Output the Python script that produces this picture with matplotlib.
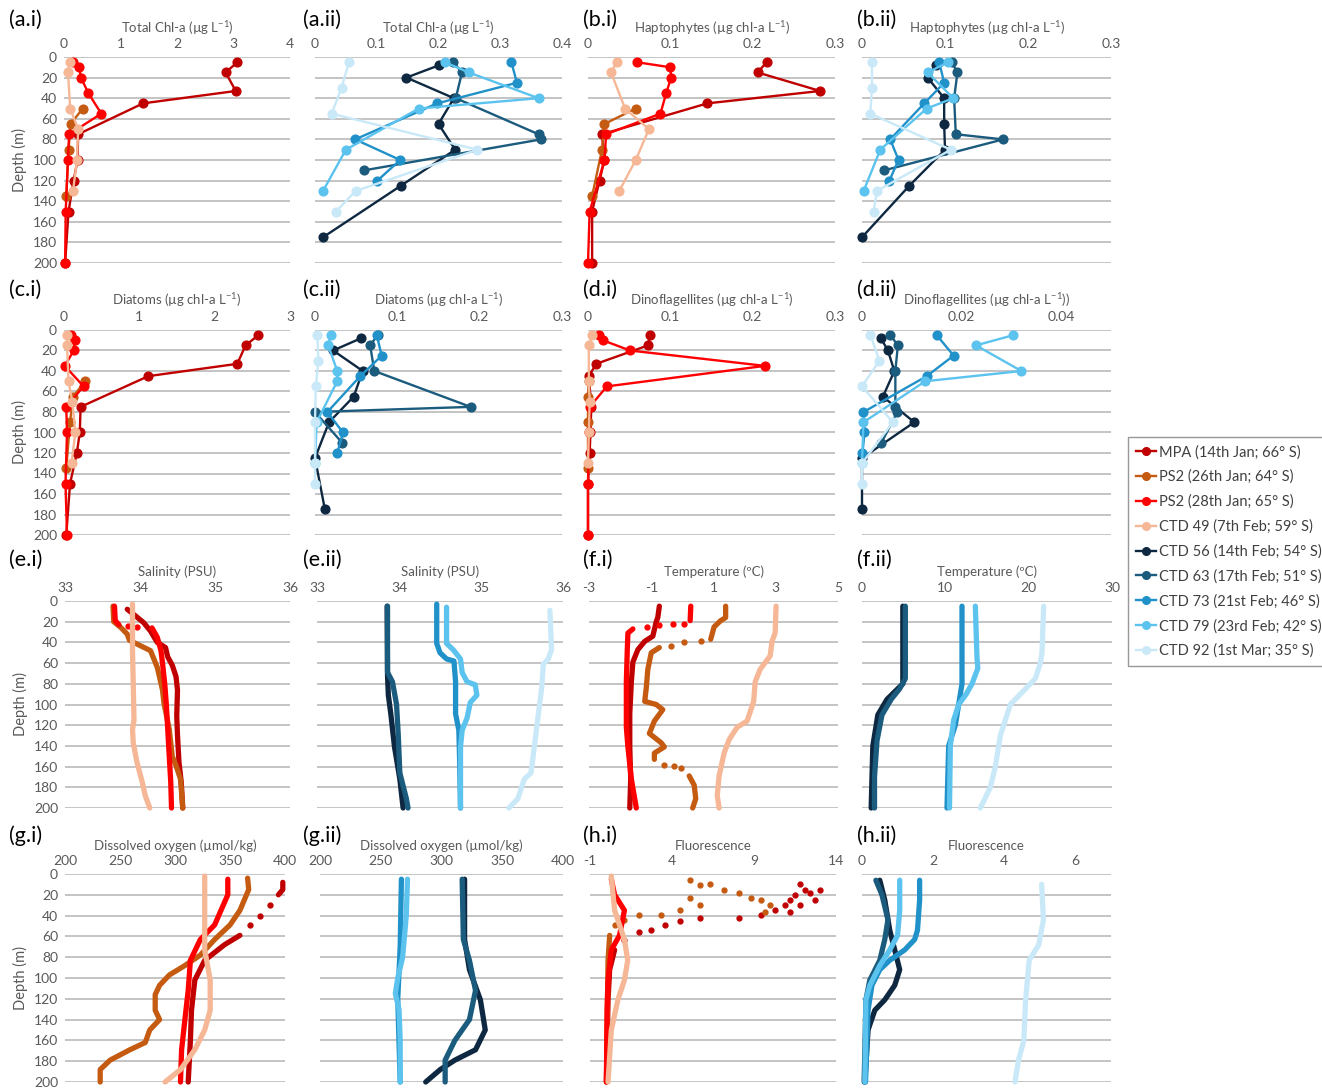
import matplotlib
matplotlib.use("Agg")
import matplotlib.pyplot as plt
from matplotlib.lines import Line2D
import numpy as np

plt.rcParams['font.family'] = ['Lato', 'DejaVu Sans']
plt.rcParams['mathtext.default'] = 'regular'

# colours / station names
C_MPA, C_PS26, C_PS28, C_49 = '#C00000', '#C55A11', '#FF0000', '#F5B795'
C_56, C_63, C_73, C_79, C_92 = '#0E2841', '#1B5B7E', '#2191C9', '#5BC3EE', '#C9E9F8'
station_names = ['MPA (14th Jan; 66° S)', 'PS2 (26th Jan; 64° S)', 'PS2 (28th Jan; 65° S)',
                 'CTD 49 (7th Feb; 59° S)', 'CTD 56 (14th Feb; 54° S)', 'CTD 63 (17th Feb; 51° S)',
                 'CTD 73 (21st Feb; 46° S)', 'CTD 79 (23rd Feb; 42° S)', 'CTD 92 (1st Mar; 35° S)']
station_colors = [C_MPA, C_PS26, C_PS28, C_49, C_56, C_63, C_73, C_79, C_92]

# ---- discrete pigment samples (depth m) ----
mpa_d = [5, 15, 33, 45, 75, 100, 120, 150, 200]
mpa_chl = [3.07, 2.86, 3.04, 1.40, 0.25, 0.24, 0.17, 0.08, 0.02]
mpa_hapto = [0.217, 0.206, 0.282, 0.145, 0.017, 0.020, 0.014, 0.005, 0.005]
mpa_diat = [2.58, 2.41, 2.30, 1.12, 0.22, 0.21, 0.17, 0.08, 0.03]
mpa_dino = [0.075, 0.073, 0.010, 0.001, 0.004, 0.003, 0.002, 0.0, 0.0]

ps26_d = [50, 65, 90, 135]
ps26_chl = [0.33, 0.12, 0.08, 0.04]
ps26_hapto = [0.058, 0.020, 0.017, 0.005]
ps26_diat = [0.28, 0.12, 0.08, 0.03]
ps26_dino = [0.001, 0.0, 0.0, 0.0]

ps28_d = [5, 10, 20, 35, 55, 75, 100, 150, 200]
ps28_chl = [0.16, 0.27, 0.30, 0.43, 0.66, 0.09, 0.07, 0.03, 0.02]
ps28_hapto = [0.059, 0.100, 0.101, 0.095, 0.088, 0.022, 0.020, 0.002, 0.0]
ps28_diat = [0.09, 0.14, 0.13, 0.01, 0.26, 0.03, 0.04, 0.02, 0.04]
ps28_dino = [0.013, 0.018, 0.051, 0.215, 0.023, 0.002, 0.001, 0.0, 0.0]

ctd49_d = [5, 15, 50, 70, 100, 130]
ctd49_chl = [0.10, 0.07, 0.11, 0.25, 0.23, 0.16]
ctd49_hapto = [0.035, 0.028, 0.045, 0.074, 0.058, 0.038]
ctd49_diat = [0.04, 0.04, 0.06, 0.11, 0.15, 0.10]
ctd49_dino = [0.005, 0.001, 0.001, 0.002, 0.001, 0.0]

ctd56_d = [8, 20, 40, 65, 90, 125, 175]
ctd56_chl = [0.201, 0.148, 0.225, 0.200, 0.227, 0.139, 0.013]
ctd56_hapto = [0.089, 0.079, 0.099, 0.099, 0.100, 0.057, 0.0]
ctd56_diat = [0.056, 0.022, 0.058, 0.047, 0.017, 0.0, 0.012]
ctd56_dino = [0.0038, 0.0052, 0.0065, 0.0042, 0.0105, 0.0, 0.0]

ctd63_d = [5, 15, 40, 75, 80, 110]
ctd63_chl = [0.224, 0.238, 0.228, 0.362, 0.366, 0.080]
ctd63_hapto = [0.108, 0.115, 0.111, 0.113, 0.170, 0.027]
ctd63_diat = [0.076, 0.067, 0.072, 0.189, 0.0, 0.033]
ctd63_dino = [0.0057, 0.0072, 0.0067, 0.0067, 0.0071, 0.0039]

ctd73_d = [5, 25, 45, 80, 100, 120]
ctd73_chl = [0.318, 0.327, 0.198, 0.065, 0.138, 0.101]
ctd73_hapto = [0.093, 0.099, 0.075, 0.034, 0.044, 0.033]
ctd73_diat = [0.075, 0.081, 0.055, 0.015, 0.034, 0.027]
ctd73_dino = [0.015, 0.0184, 0.013, 0.0003, 0.0005, 0.0001]

ctd79_d = [5, 15, 40, 50, 90, 130]
ctd79_chl = [0.210, 0.249, 0.362, 0.168, 0.050, 0.013]
ctd79_hapto = [0.104, 0.079, 0.110, 0.078, 0.022, 0.002]
ctd79_diat = [0.019, 0.016, 0.027, 0.027, 0.002, 0.0]
ctd79_dino = [0.0304, 0.0229, 0.032, 0.0127, 0.0003, 0.0]

ctd92_d = [5, 30, 55, 90, 130, 150]
ctd92_chl = [0.055, 0.043, 0.027, 0.263, 0.066, 0.034]
ctd92_hapto = [0.012, 0.012, 0.010, 0.107, 0.018, 0.014]
ctd92_diat = [0.003, 0.004, 0.001, 0.0, 0.0, 0.0]
ctd92_dino = [0.0017, 0.0035, 0.0, 0.0062, 0.0, 0.0]

# ---- CTD profiles (nan = gap in the cast, shown as loose dots) ----
nan = np.nan
# salinity
mpa_sal_d = [8, 12, 21, 29, 40, 45, 54, 62, 73, 86, 111, 130, 156, 175, 200]
mpa_sal = [33.83, 33.90, 34.05, 34.14, 34.23, 34.34, 34.37, 34.43, 34.48, 34.50, 34.49, 34.50, 34.52, 34.55, 34.57]
ps26_sal_d = [5, 20, 26, 32, 38, 43, 48, 64, 86, 99, 124, 150, 159, 172, 200]
ps26_sal = [33.64, 33.65, 33.75, 33.83, 33.86, 34.00, 34.14, 34.23, 34.30, 34.32, 34.39, 34.43, 34.48, 34.54, 34.57]
ps28_sal_d = [5, 19, 23, nan, 26, 35, 48, 60, 80, 99, 124, 150, 175, 200]
ps28_sal = [33.66, 33.67, 33.72, nan, 34.16, 34.23, 34.28, 34.30, 34.33, 34.35, 34.37, 34.39, 34.41, 34.42]
ps28_sal_dot_d = [24, 25]
ps28_sal_dot = [33.84, 33.96]
ctd49_sal_d = [3, 48, 80, 115, 124, 137, 156, 175, 188, 200]
ctd49_sal = [33.90, 33.90, 33.91, 33.92, 33.90, 33.91, 33.96, 34.03, 34.07, 34.13]
ctd56_sal_d = [5, 72, 91, 109, 141, 172, 200]
ctd56_sal = [33.855, 33.86, 33.87, 33.90, 33.945, 34.01, 34.05]
ctd63_sal_d = [5, 69, 78, 100, 128, 166, 191, 200]
ctd63_sal = [33.86, 33.86, 33.92, 33.97, 33.99, 34.01, 34.09, 34.11]
ctd73_sal_d = [3, 41, 50, 56, 58, 78, 109, 125, 156, 200]
ctd73_sal = [34.46, 34.46, 34.50, 34.58, 34.67, 34.69, 34.69, 34.73, 34.74, 34.75]
ctd79_sal_d = [6, 41, 47, 56, 69, 78, 81, 91, 98, 113, 125, 141, 172, 200]
ctd79_sal = [34.58, 34.58, 34.66, 34.75, 34.77, 34.83, 34.93, 34.95, 34.87, 34.83, 34.77, 34.75, 34.75, 34.75]
ctd92_sal_d = [9, 47, 56, 61, 84, 109, 141, 166, 172, 181, 191, 200]
ctd92_sal = [35.84, 35.86, 35.82, 35.76, 35.74, 35.70, 35.65, 35.61, 35.53, 35.49, 35.45, 35.34]

# temperature
mpa_temp_d = [5, 16, 20, 34, 39, 47, 59, 78, 109, 141, 172, 200]
mpa_temp = [-0.74, -0.79, -0.84, -0.95, -1.21, -1.43, -1.59, -1.64, -1.69, -1.69, -1.66, -1.69]
ps26_temp_d = [5, 16, 19, 25, 37, nan, 45, 50, 66, 84, 97, 100, 105, 116, 128, 137, 141, 147, 153, nan, 169, 178, 191, 200]
ps26_temp = [1.39, 1.39, 1.23, 1.02, 0.91, nan, -0.74, -1.0, -1.11, -1.16, -1.21, -0.84, -0.63, -0.90, -1.06, -0.68, -0.58, -0.90, -0.90, nan, 0.22, 0.38, 0.43, 0.33]
ps26_temp_dot_d = [39, 40, 43, 158, 159, 161]
ps26_temp_dot = [0.59, 0.06, -0.36, -0.58, -0.26, -0.05]
ps28_temp_d = [5, 19, nan, 27, 31, 47, 78, 122, 141, 172, 200]
ps28_temp = [0.27, 0.25, nan, -1.59, -1.75, -1.77, -1.80, -1.80, -1.75, -1.64, -1.48]
ps28_temp_dot_d = [22, 22, 23, 25]
ps28_temp_dot = [0.06, -0.31, -0.74, -1.13]
ctd49_temp_d = [5, 31, 39, 53, 66, 78, 97, 116, 122, 134, 147, 169, 188, 200]
ctd49_temp = [3.01, 2.98, 2.88, 2.82, 2.50, 2.34, 2.29, 2.08, 1.76, 1.50, 1.34, 1.18, 1.12, 1.18]
ctd56_temp_d = [5, 80, 95, 110, 140, 200]
ctd56_temp = [4.9, 4.9, 3.0, 1.9, 1.3, 1.1]
ctd63_temp_d = [5, 75, 85, 95, 110, 135, 170, 200]
ctd63_temp = [5.2, 5.2, 4.5, 3.5, 2.4, 1.8, 1.5, 1.5]
ctd73_temp_d = [5, 80, 100, 120, 140, 200]
ctd73_temp = [12.0, 12.0, 11.6, 11.2, 10.4, 10.2]
ctd79_temp_d = [5, 55, 65, 80, 90, 100, 115, 140, 200]
ctd79_temp = [13.6, 13.8, 13.9, 13.2, 12.5, 11.6, 11.0, 10.6, 10.5]
ctd92_temp_d = [5, 50, 60, 75, 90, 100, 130, 160, 180, 200]
ctd92_temp = [21.8, 21.6, 21.4, 20.8, 19.0, 17.8, 16.6, 16.0, 15.4, 14.2]

# dissolved oxygen
mpa_oxy_d = [8, 15, 20, nan, 59, 68, 83, 102, 131, 160, 200]
mpa_oxy = [398, 398, 394, nan, 359, 345, 327, 318, 315, 314, 312]
mpa_oxy_dot_d = [30, 40, 49]
mpa_oxy_dot = [386, 377, 368]
ps26_oxy_d = [4, 15, 35, 49, 63, 78, 88, 97, 107, 116, 131, 140, 150, 162, 169, 179, 188, 200]
ps26_oxy = [366, 367, 359, 350, 336, 323, 309, 295, 286, 282, 282, 286, 277, 273, 259, 241, 232, 232]
ps28_oxy_d = [5, 20, 49, 63, 83, 112, 140, 169, 200]
ps28_oxy = [348, 348, 336, 323, 314, 312, 309, 306, 305]
ctd49_oxy_d = [2, 54, 73, 102, 131, 150, 169, 188, 200]
ctd49_oxy = [327, 327, 327, 332, 332, 327, 318, 305, 291]
ctd56_oxy_d = [5, 63, 92, 121, 150, 169, 179, 188, 200]
ctd56_oxy = [319, 319, 323, 332, 336, 328, 311, 299, 287]
ctd63_oxy_d = [5, 63, 83, 112, 140, 160, 179, 200]
ctd63_oxy = [317, 318, 323, 328, 323, 311, 303, 303]
ctd73_oxy_d = [5, 70, 120, 160, 200]
ctd73_oxy = [267, 266, 264, 265, 266]
ctd79_oxy_d = [5, 40, 80, 100, 115, 130, 160, 200]
ctd79_oxy = [272, 271, 268, 264, 262, 265, 266, 266]

# fluorescence
mpa_fl_d = [73, 92, 121, 200]
mpa_fl = [0.5, 0.2, 0.1, 0.0]
mpa_fl_dot_d = [10, 15, 18, 20, 25, 15, 25, 30, 30, 35, 37, 39, 42, 42, 45, 49, 54, 56, 63]
mpa_fl_dot = [11.8, 12.1, 12.4, 11.5, 11.2, 13.0, 12.7, 10.9, 11.8, 10.3, 11.2, 9.4, 8.1, 5.7, 4.5, 3.6, 2.7, 2.0, 1.1]
ps26_fl_d = [59, 83, 200]
ps26_fl = [0.2, 0.1, 0.0]
ps26_fl_dot_d = [6, 11, 10, 15, 18, 23, 25, 30, 37, 30, 23, 35, 39, 39, 44, 49]
ps26_fl_dot = [5.1, 5.7, 6.3, 7.2, 8.1, 8.8, 9.4, 10.0, 9.7, 5.7, 5.1, 4.5, 3.3, 2.0, 1.1, 0.5]
ps28_fl_d = [5, 20, 35, 59, 73, 102, 131, 200]
ps28_fl = [0.3, 0.5, 1.1, 0.8, 0.3, 0.1, 0.04, 0.0]
ctd49_fl_d = [2, 35, 63, 83, 102, 121, 150, 200]
ctd49_fl = [0.3, 0.5, 1.1, 1.3, 1.1, 0.7, 0.3, 0.1]
ctd56_fl_d = [6, 25, 54, 73, 92, 107, 121, 131, 150, 200]
ctd56_fl = [0.5, 0.64, 0.78, 0.92, 1.06, 0.92, 0.64, 0.36, 0.17, 0.08]
ctd63_fl_d = [6, 20, 44, 63, 83, 102, 121, 200]
ctd63_fl = [0.39, 0.56, 0.73, 0.64, 0.5, 0.22, 0.11, 0.06]
ctd73_fl_d = [6, 25, 54, 63, 73, 83, 92, 107, 131, 200]
ctd73_fl = [1.62, 1.62, 1.56, 1.48, 1.2, 0.78, 0.5, 0.28, 0.17, 0.1]
ctd79_fl_d = [6, 35, 59, 73, 88, 107, 121, 200]
ctd79_fl = [1.06, 1.06, 1.0, 0.78, 0.5, 0.22, 0.11, 0.08]
ctd92_fl_d = [10, 44, 68, 83, 121, 160, 179, 200]
ctd92_fl = [5.05, 5.1, 4.97, 4.7, 4.6, 4.55, 4.4, 4.3]

# ---- layout (pixels of the 1322x1088 canvas) ----
W, H = 1322, 1088
col_l = [64, 315, 588, 862]
col_r = [290, 562, 835, 1111]
# the lower rows sit a few pixels differently
col_l_row = {2: [65, 317, 589, 862], 3: [65, 320, 590, 862]}
col_r_row = {2: [290, 563, 838, 1112], 3: [285, 563, 836, 1111]}
row_t = [57, 330, 601, 874]
row_b = [263, 535, 808, 1082]
lab_x = [9, 303, 583, 857]
lab_y = [20, 290, 560, 836]
GRAY = '#595959'

fig = plt.figure(figsize=(W / 100, H / 100), dpi=100)


def make_ax(r, c, label, title, xlim, xticks):
    left = col_l_row.get(r, col_l)[c]
    right = col_r_row.get(r, col_r)[c]
    ax = fig.add_axes([left / W, 1 - row_b[r] / H,
                       (right - left) / W, (row_b[r] - row_t[r]) / H])
    ax.set_xlim(*xlim)
    ax.set_ylim(200, 0)
    ax.set_yticks(range(0, 201, 20))
    ax.set_xticks(xticks)
    ax.set_xticklabels([f"{t:g}" for t in xticks])
    ax.xaxis.tick_top()
    ax.grid(axis='y', color='#BFBFBF', lw=1.3)
    ax.set_axisbelow(True)
    for s in ax.spines.values():
        s.set_visible(False)
    ax.tick_params(length=0, labelsize=10, labelcolor=GRAY, pad=5)
    if c == 0:
        ax.set_ylabel('Depth (m)', fontsize=10.5, color=GRAY, labelpad=4)
    else:
        ax.set_yticklabels([])
    ax.set_title(title, fontsize=9.5, color=GRAY, pad=4)
    fig.text(lab_x[c] / W, 1 - lab_y[r] / H, label, fontsize=15.5, va='center', ha='left')
    return ax


def discrete(ax, vals, depths, color):
    ax.plot(vals, depths, '-o', color=color, lw=1.7, ms=6.3, clip_on=False)


def profile(ax, vals, depths, color):
    ax.plot(vals, depths, '-', color=color, lw=3.8, solid_capstyle='round',
            solid_joinstyle='round', clip_on=False)


def dots(ax, vals, depths, color):
    ax.plot(vals, depths, 'o', color=color, ms=3.5, clip_on=False)


chl_t = 'Total Chl-a (µg L$^{-1}$)'
hap_t = 'Haptophytes (µg chl-a L$^{-1}$)'
dia_t = 'Diatoms (µg chl-a L$^{-1}$)'

# row 1-2: pigments
ax = make_ax(0, 0, '(a.i)', chl_t, (0, 4), [0, 1, 2, 3, 4])
for v, d, c in [(mpa_chl, mpa_d, C_MPA), (ps26_chl, ps26_d, C_PS26), (ps28_chl, ps28_d, C_PS28), (ctd49_chl, ctd49_d, C_49)]:
    discrete(ax, v, d, c)
ax = make_ax(0, 1, '(a.ii)', chl_t, (0, 0.4), [0, 0.1, 0.2, 0.3, 0.4])
for v, d, c in [(ctd56_chl, ctd56_d, C_56), (ctd63_chl, ctd63_d, C_63), (ctd73_chl, ctd73_d, C_73), (ctd79_chl, ctd79_d, C_79), (ctd92_chl, ctd92_d, C_92)]:
    discrete(ax, v, d, c)
ax = make_ax(0, 2, '(b.i)', hap_t, (0, 0.3), [0, 0.1, 0.2, 0.3])
for v, d, c in [(mpa_hapto, mpa_d, C_MPA), (ps26_hapto, ps26_d, C_PS26), (ps28_hapto, ps28_d, C_PS28), (ctd49_hapto, ctd49_d, C_49)]:
    discrete(ax, v, d, c)
ax = make_ax(0, 3, '(b.ii)', hap_t, (0, 0.3), [0, 0.1, 0.2, 0.3])
for v, d, c in [(ctd56_hapto, ctd56_d, C_56), (ctd63_hapto, ctd63_d, C_63), (ctd73_hapto, ctd73_d, C_73), (ctd79_hapto, ctd79_d, C_79), (ctd92_hapto, ctd92_d, C_92)]:
    discrete(ax, v, d, c)

ax = make_ax(1, 0, '(c.i)', dia_t, (0, 3), [0, 1, 2, 3])
for v, d, c in [(mpa_diat, mpa_d, C_MPA), (ps26_diat, ps26_d, C_PS26), (ps28_diat, ps28_d, C_PS28), (ctd49_diat, ctd49_d, C_49)]:
    discrete(ax, v, d, c)
ax = make_ax(1, 1, '(c.ii)', dia_t, (0, 0.3), [0, 0.1, 0.2, 0.3])
for v, d, c in [(ctd56_diat, ctd56_d, C_56), (ctd63_diat, ctd63_d, C_63), (ctd73_diat, ctd73_d, C_73), (ctd79_diat, ctd79_d, C_79), (ctd92_diat, ctd92_d, C_92)]:
    discrete(ax, v, d, c)
ax = make_ax(1, 2, '(d.i)', 'Dinoflagellites (µg chl-a L$^{-1}$)', (0, 0.3), [0, 0.1, 0.2, 0.3])
for v, d, c in [(mpa_dino, mpa_d, C_MPA), (ps26_dino, ps26_d, C_PS26), (ps28_dino, ps28_d, C_PS28), (ctd49_dino, ctd49_d, C_49)]:
    discrete(ax, v, d, c)
ax = make_ax(1, 3, '(d.ii)', 'Dinoflagellites (µg chl-a L$^{-1}$))', (0, 0.05), [0, 0.02, 0.04])
for v, d, c in [(ctd56_dino, ctd56_d, C_56), (ctd63_dino, ctd63_d, C_63), (ctd73_dino, ctd73_d, C_73), (ctd79_dino, ctd79_d, C_79), (ctd92_dino, ctd92_d, C_92)]:
    discrete(ax, v, d, c)

# row 3: salinity / temperature
ax = make_ax(2, 0, '(e.i)', 'Salinity (PSU)', (33, 36), [33, 34, 35, 36])
profile(ax, mpa_sal, mpa_sal_d, C_MPA)
profile(ax, ps26_sal, ps26_sal_d, C_PS26)
profile(ax, ps28_sal, ps28_sal_d, C_PS28)
dots(ax, ps28_sal_dot, ps28_sal_dot_d, C_PS28)
profile(ax, ctd49_sal, ctd49_sal_d, C_49)
ax = make_ax(2, 1, '(e.ii)', 'Salinity (PSU)', (33, 36), [33, 34, 35, 36])
for v, d, c in [(ctd56_sal, ctd56_sal_d, C_56), (ctd63_sal, ctd63_sal_d, C_63), (ctd73_sal, ctd73_sal_d, C_73), (ctd79_sal, ctd79_sal_d, C_79), (ctd92_sal, ctd92_sal_d, C_92)]:
    profile(ax, v, d, c)
ax = make_ax(2, 2, '(f.i)', 'Temperature (ºC)', (-3, 5), [-3, -1, 1, 3, 5])
profile(ax, mpa_temp, mpa_temp_d, C_MPA)
profile(ax, ps26_temp, ps26_temp_d, C_PS26)
dots(ax, ps26_temp_dot, ps26_temp_dot_d, C_PS26)
profile(ax, ps28_temp, ps28_temp_d, C_PS28)
dots(ax, ps28_temp_dot, ps28_temp_dot_d, C_PS28)
profile(ax, ctd49_temp, ctd49_temp_d, C_49)
ax = make_ax(2, 3, '(f.ii)', 'Temperature (ºC)', (0, 30), [0, 10, 20, 30])
for v, d, c in [(ctd56_temp, ctd56_temp_d, C_56), (ctd63_temp, ctd63_temp_d, C_63), (ctd73_temp, ctd73_temp_d, C_73), (ctd79_temp, ctd79_temp_d, C_79), (ctd92_temp, ctd92_temp_d, C_92)]:
    profile(ax, v, d, c)

# row 4: oxygen / fluorescence
ax = make_ax(3, 0, '(g.i)', 'Dissolved oxygen (µmol/kg)', (200, 400), [200, 250, 300, 350, 400])
profile(ax, mpa_oxy, mpa_oxy_d, C_MPA)
dots(ax, mpa_oxy_dot, mpa_oxy_dot_d, C_MPA)
profile(ax, ps26_oxy, ps26_oxy_d, C_PS26)
profile(ax, ps28_oxy, ps28_oxy_d, C_PS28)
profile(ax, ctd49_oxy, ctd49_oxy_d, C_49)
ax = make_ax(3, 1, '(g.ii)', 'Dissolved oxygen (µmol/kg)', (200, 400), [200, 250, 300, 350, 400])
for v, d, c in [(ctd56_oxy, ctd56_oxy_d, C_56), (ctd63_oxy, ctd63_oxy_d, C_63), (ctd73_oxy, ctd73_oxy_d, C_73), (ctd79_oxy, ctd79_oxy_d, C_79)]:
    profile(ax, v, d, c)
ax = make_ax(3, 2, '(h.i)', 'Fluorescence', (-1, 14), [-1, 4, 9, 14])
dots(ax, mpa_fl_dot, mpa_fl_dot_d, C_MPA)
profile(ax, mpa_fl, mpa_fl_d, C_MPA)
dots(ax, ps26_fl_dot, ps26_fl_dot_d, C_PS26)
profile(ax, ps26_fl, ps26_fl_d, C_PS26)
profile(ax, ps28_fl, ps28_fl_d, C_PS28)
profile(ax, ctd49_fl, ctd49_fl_d, C_49)
ax = make_ax(3, 3, '(h.ii)', 'Fluorescence', (0, 7), [0, 2, 4, 6])
for v, d, c in [(ctd56_fl, ctd56_fl_d, C_56), (ctd63_fl, ctd63_fl_d, C_63), (ctd73_fl, ctd73_fl_d, C_73), (ctd79_fl, ctd79_fl_d, C_79), (ctd92_fl, ctd92_fl_d, C_92)]:
    profile(ax, v, d, c)

# legend
handles = [Line2D([0], [0], color=c, lw=1.7, marker='o', ms=5.5) for c in station_colors]
leg = fig.legend(handles, station_names, loc='upper left', bbox_to_anchor=(1128 / W, 1 - 437 / H),
                 fontsize=10.5, frameon=True, fancybox=False, edgecolor='#7F7F7F',
                 handlelength=1.4, handletextpad=0.15, labelspacing=0.72, borderpad=0.55,
                 borderaxespad=0)
leg.get_frame().set_linewidth(1.0)
for t in leg.get_texts():
    t.set_color('#404040')

fig.savefig('out.png', dpi=100)
